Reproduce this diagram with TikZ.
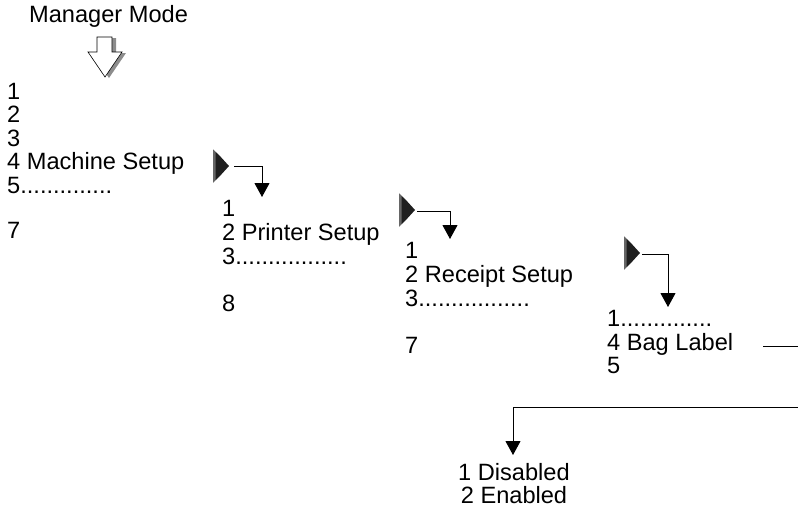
\documentclass[tikz,border=0pt]{standalone}
\usepackage{fontspec}
\setmainfont{Liberation Sans}
\usetikzlibrary{arrows.meta}
\tikzset{
  lbl/.style={anchor=base west, inner sep=0pt, font=\fontsize{23.6}{24}\selectfont},
  clbl/.style={anchor=base, inner sep=0pt, font=\fontsize{23.6}{24}\selectfont},
  conn/.style={line width=1pt, -{Triangle[width=15pt,length=14pt]}},
  plainconn/.style={line width=1pt},
  blackarrow/.pic={
    \fill[black!88] (0,-16.5) -- (6,-11) -- (16,0) -- (6,11) -- (0,16.5) -- cycle;
    \fill[black!60] (0,-16.5) -- (2.5,-14) -- (2.5,14) -- (0,16.5) -- cycle;
  }
}
\begin{document}
\begin{tikzpicture}[x=1pt,y=-1pt]
\useasboundingbox (0,0) rectangle (798,509);

% title and hollow arrow
\node[lbl] (mm) at (29,22) {Manager Mode};
\fill[black!45] (101,38) -- (116,38) -- (116,53) -- (126,53) -- (109,78) -- (92,53) -- (101,53) -- cycle;
\draw[fill=white, line width=0.6pt] (97,37) -- (112,37) -- (112,52) -- (122,52) -- (105,77) -- (88,52) -- (97,52) -- cycle;

% list 1
\node[lbl] (a1) at (7,99) {1};
\node[lbl] (a2) at (7,122) {2};
\node[lbl] (a3) at (7,146) {3};
\node[lbl] (a4) at (7,169) {4 Machine Setup};
\node[lbl] (a5) at (7,193) {5..............};
\node[lbl] (a7) at (7,238) {7};

% arrow 1
\pic at (213,166) {blackarrow};
\coordinate (s1) at (234,166);
\coordinate (e1) at (262,197);
\draw[conn] (s1) -| (e1);

% list 2
\node[lbl] (b1) at (222,216) {1};
\node[lbl] (b2) at (222,240) {2 Printer Setup};
\node[lbl] (b3) at (222,264) {3.................};
\node[lbl] (b8) at (222,311) {8};

% arrow 2
\pic at (399,210) {blackarrow};
\coordinate (s2) at (417,211);
\coordinate (e2) at (450,239);
\draw[conn] (s2) -| (e2);

% list 3
\node[lbl] (c1) at (405,258) {1};
\node[lbl] (c2) at (405,282) {2 Receipt Setup};
\node[lbl] (c3) at (405,306) {3.................};
\node[lbl] (c7) at (405,353) {7};

% arrow 3
\pic at (624,253) {blackarrow};
\coordinate (s3) at (642,254);
\coordinate (e3) at (668,307);
\draw[conn] (s3) -| (e3);

% list 4
\node[lbl] (d1) at (607,326) {1..............};
\node[lbl] (d4) at (607,350) {4 Bag Label};
\node[lbl] (d5) at (607,373) {5};

% bag label connector (leaves picture)
\coordinate (s4) at (763,346);
\coordinate (t4) at (798,346);
\draw[plainconn] (s4) -- (t4);

\coordinate (s5) at (798,407);
\coordinate (e5) at (513,455);
\draw[conn] (s5) -| (e5);

% final list
\node[clbl] (f1) at (514,480) {1 Disabled};
\node[clbl] (f2) at (514,503) {2 Enabled};
\end{tikzpicture}
\end{document}
